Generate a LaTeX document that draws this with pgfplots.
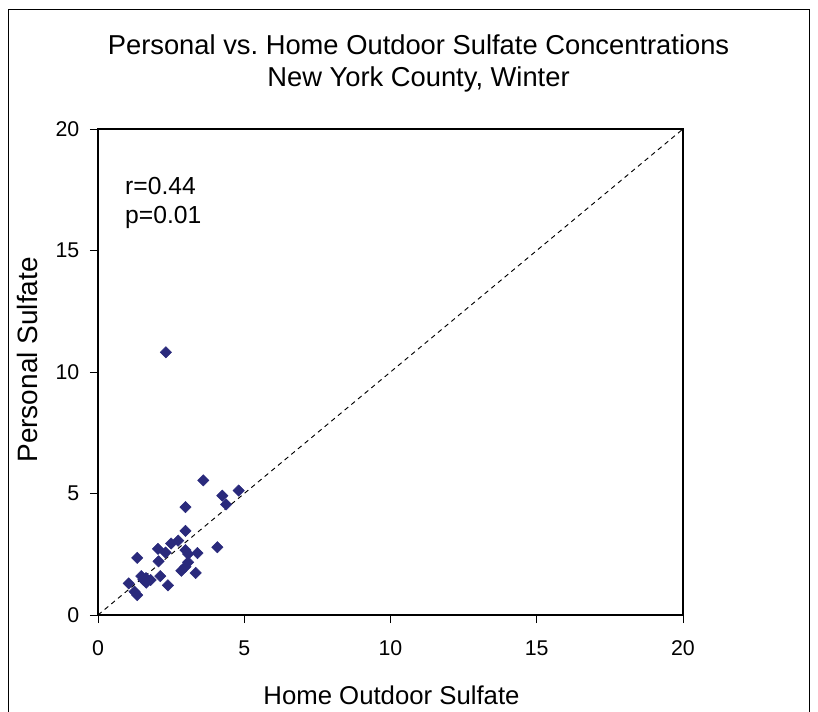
\documentclass[border=0pt]{standalone}
\usepackage{pgfplots}
\pgfplotsset{compat=1.18}
\usepackage{fontspec}
\setmainfont{Liberation Sans}
\frenchspacing
\definecolor{navy}{RGB}{42,42,124}
\begin{document}
\begin{tikzpicture}
\path[use as bounding box] (0pt,0pt) rectangle (613.5pt,533.25pt);
\draw[line width=0.8pt] (6.5pt,-8pt) rectangle (607pt,526pt);
\node[anchor=base, inner sep=0pt, font=\fontsize{20.5}{24}\selectfont] at (313.9pt,492.5pt) {Personal vs.\ Home Outdoor Sulfate Concentrations};
\node[anchor=base, inner sep=0pt, font=\fontsize{20.5}{24}\selectfont] at (313.9pt,468.2pt) {New York County, Winter};
\begin{axis}[
  at={(73.5pt,72pt)}, anchor=south west,
  scale only axis, width=438.75pt, height=364.5pt,
  xmin=0, xmax=20, ymin=0, ymax=20,
  xtick={0,5,...,20}, ytick={0,5,...,20},
  tick align=outside, xtick pos=bottom, ytick pos=left,
  major tick length=6pt,
  tick style={black, line width=0.6pt},
  axis line style={line width=0.8pt},
  /pgf/number format/assume math mode=true,
  ticklabel style={font=\fontsize{16}{18}\selectfont},
  xticklabel style={yshift=-10pt},
  yticklabel style={xshift=-4.5pt},
  xlabel={Home Outdoor Sulfate}, ylabel={Personal Sulfate},
  xlabel style={font=\fontsize{19.3}{22}\selectfont, at={(axis description cs:0.5017,-0.1656)}, anchor=center},
  ylabel style={font=\fontsize{21}{24}\selectfont, at={(axis description cs:-0.12,0.525)}, anchor=center},
  clip=false,
]
\addplot[black, dash pattern=on 3.5pt off 3pt, line width=0.7pt] coordinates {(0,0) (20,20)};
\addplot[only marks, mark=square*, mark size=3pt, color=navy, mark options={rotate=45, fill=navy}] coordinates {
(3.60,5.54) (4.81,5.12) (4.25,4.91) (4.38,4.55) (2.99,4.44) (2.99,3.46)
(4.08,2.79) (2.50,2.94) (2.74,3.06) (2.05,2.72) (2.31,2.57) (2.99,2.67)
(3.08,2.51) (3.40,2.55) (1.34,2.35) (2.07,2.21) (3.08,2.17) (2.99,1.99)
(2.85,1.82) (3.34,1.73) (1.48,1.60) (2.13,1.60) (1.64,1.52) (1.80,1.44)
(1.05,1.30) (1.65,1.33) (2.39,1.22) (1.25,0.96) (1.34,0.82) (1.55,1.45)
(2.32,10.81)
};
\node[anchor=base west, inner sep=0pt, font=\fontsize{18.5}{22}\selectfont] at (axis cs:0.92,17.3) {r=0.44};
\node[anchor=base west, inner sep=0pt, font=\fontsize{18.5}{22}\selectfont] at (axis cs:0.92,16.11) {p=0.01};
\end{axis}
\end{tikzpicture}
\end{document}
